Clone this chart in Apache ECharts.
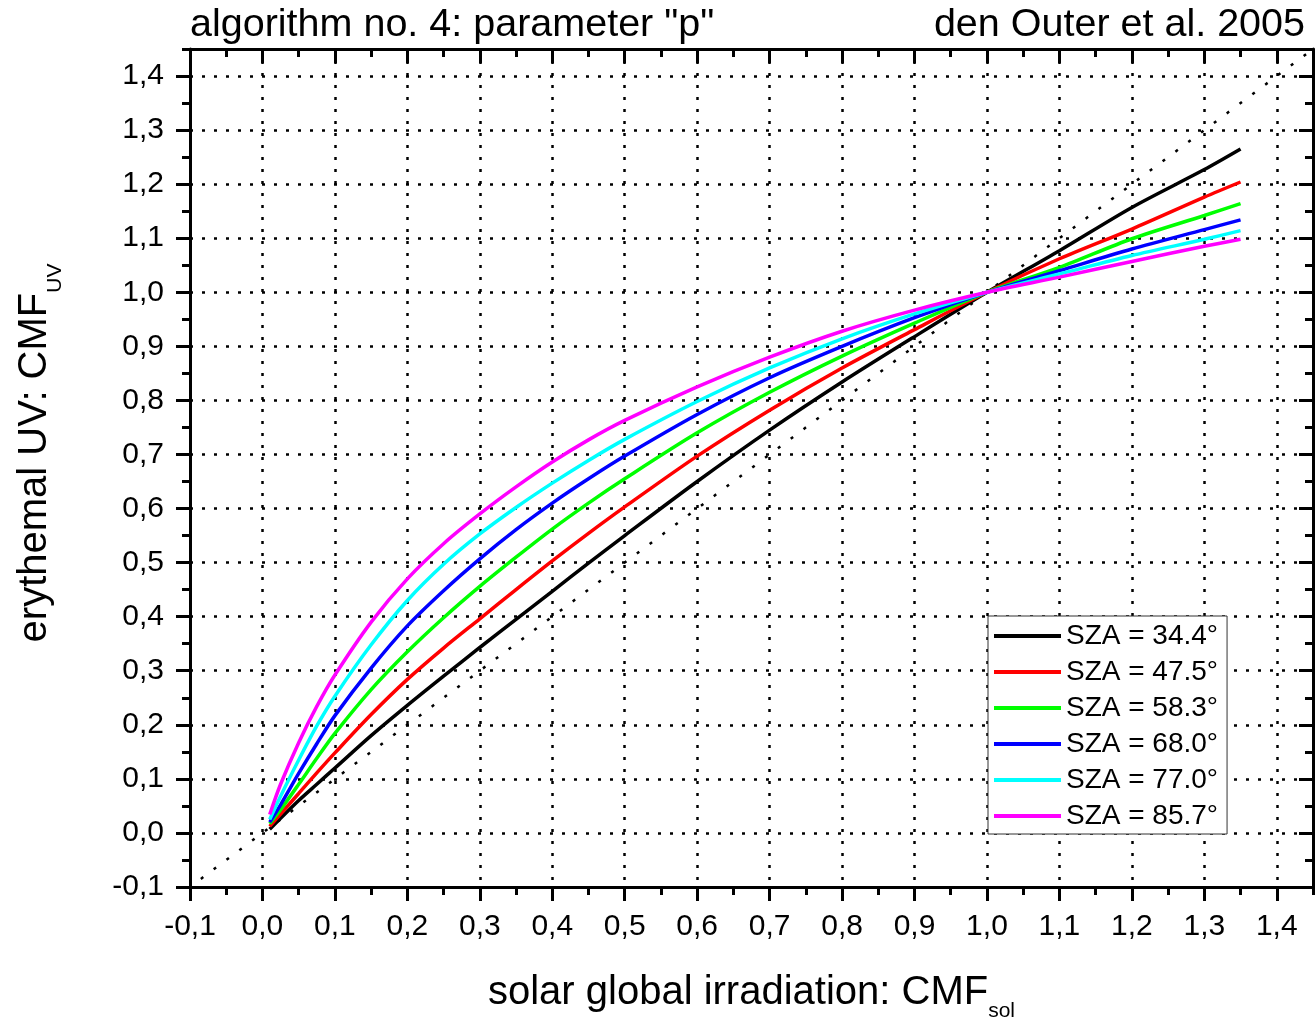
<!DOCTYPE html>
<html>
<head>
<meta charset="utf-8">
<script src="https://cdn.jsdelivr.net/npm/echarts@6/dist/echarts.min.js"></script>
<style>
html,body{margin:0;padding:0;background:#fff;}
#chart{width:1315px;height:1021px;}
</style>
</head>
<body>
<div id="chart"></div>
<script>
// ---- data ----
const cmfSol = [0.01, 0.025, 0.05, 0.075, 0.1, 0.15, 0.2, 0.25, 0.3, 0.35, 0.4, 0.45, 0.5, 0.6, 0.7, 0.8, 0.9, 1.0, 1.1, 1.2, 1.3, 1.35];
const sza344 = [0.007, 0.027, 0.06, 0.09, 0.12, 0.18, 0.236, 0.29, 0.343, 0.395, 0.447, 0.499, 0.55, 0.65, 0.745, 0.834, 0.918, 1.0, 1.077, 1.157, 1.227, 1.265];
const sza475 = [0.012, 0.035, 0.073, 0.111, 0.148, 0.219, 0.284, 0.342, 0.396, 0.45, 0.503, 0.554, 0.603, 0.697, 0.782, 0.86, 0.931, 1.0, 1.062, 1.117, 1.176, 1.204];
const sza583 = [0.017, 0.043, 0.09, 0.138, 0.184, 0.265, 0.335, 0.398, 0.456, 0.51, 0.562, 0.61, 0.655, 0.74, 0.815, 0.882, 0.943, 1.0, 1.046, 1.099, 1.142, 1.164];
const sza680 = [0.02, 0.052, 0.11, 0.165, 0.217, 0.305, 0.383, 0.448, 0.507, 0.561, 0.61, 0.655, 0.697, 0.774, 0.842, 0.9, 0.953, 1.0, 1.04, 1.08, 1.116, 1.134];
const sza770 = [0.025, 0.068, 0.135, 0.198, 0.253, 0.348, 0.43, 0.497, 0.553, 0.602, 0.647, 0.689, 0.728, 0.798, 0.86, 0.914, 0.96, 1.0, 1.034, 1.068, 1.098, 1.114];
const sza857 = [0.034, 0.09, 0.167, 0.234, 0.292, 0.39, 0.47, 0.535, 0.59, 0.64, 0.686, 0.727, 0.763, 0.825, 0.88, 0.928, 0.967, 1.0, 1.028, 1.057, 1.085, 1.098];
const seriesNames = ['SZA = 34.4°', 'SZA = 47.5°', 'SZA = 58.3°', 'SZA = 68.0°', 'SZA = 77.0°', 'SZA = 85.7°'];
const seriesValues = [sza344, sza475, sza583, sza680, sza770, sza857];
const seriesColors = ['#000000', '#ff0000', '#00ff00', '#0000ff', '#00ffff', '#ff00ff'];
const diagonalEnds = [-0.085, 1.45];   // 1:1 reference line
const tickLabels = ['-0,1', '0,0', '0,1', '0,2', '0,3', '0,4', '0,5', '0,6', '0,7', '0,8', '0,9', '1,0', '1,1', '1,2', '1,3', '1,4'];
const axisMin = -0.1, axisMax = 1.45, majorStep = 0.1, minorStep = 0.05;

const FONT = 'Liberation Sans, Arial, sans-serif';

function labelFor(v) {
  const k = (v - axisMin) / majorStep;
  const r = Math.round(k);
  if (Math.abs(k - r) > 1e-6) return '';
  return tickLabels[r] !== undefined ? tickLabels[r] : '';
}

function majorAxis(pos, opts) {
  const isLabelled = opts.labels;
  return {
    type: 'value', position: pos, min: axisMin, max: axisMax, interval: majorStep,
    axisLine: { show: true, onZero: false, lineStyle: { color: '#000', width: 3 } },
    axisTick: { show: true, inside: !!opts.inside, length: 14, lineStyle: { color: '#000', width: 3 } },
    minorTick: { show: false },
    axisLabel: isLabelled ? {
      show: true, color: '#000', fontFamily: FONT, fontSize: 30, margin: opts.margin,
      formatter: labelFor, showMaxLabel: false
    } : { show: false },
    splitLine: opts.split ? { show: true, lineStyle: { color: '#000', width: 2.5, type: [3, 9] } } : { show: false },
    name: opts.name || '', nameLocation: 'middle', nameGap: opts.nameGap || 0,
    nameTextStyle: opts.nameStyle || {}
  };
}
function minorAxis(pos, inside) {
  return {
    type: 'value', position: pos, min: axisMin, max: axisMax, interval: minorStep,
    axisLine: { show: false, onZero: false },
    axisTick: { show: true, inside: inside, length: 8, lineStyle: { color: '#000', width: 3 } },
    axisLabel: { show: false }, splitLine: { show: false }
  };
}

const series = seriesNames.map((nm, i) => ({
  name: nm, type: 'line', xAxisIndex: 0, yAxisIndex: 0,
  data: cmfSol.map((x, j) => [x, seriesValues[i][j]]),
  symbol: 'none', smooth: 0.3, z: 3 + i,
  lineStyle: { color: seriesColors[i], width: 3.5 },
  itemStyle: { color: seriesColors[i] }
}));
series.unshift({
  name: '1:1', type: 'line', xAxisIndex: 0, yAxisIndex: 0,
  data: diagonalEnds.map(v => [v, v]), symbol: 'none', silent: true, z: 2,
  lineStyle: { color: '#000', width: 2.5, type: [3, 13] }
});

const chart = echarts.init(document.getElementById('chart'), null, { renderer: 'canvas' });
chart.setOption({
  animation: false,
  backgroundColor: '#fff',
  title: [
    { text: 'algorithm no. 4: parameter "p"', left: 185, top: 0,
      textStyle: { fontFamily: FONT, fontSize: 39.5, fontWeight: 'normal', color: '#000' } },
    { text: 'den Outer et al. 2005', right: 5, top: 0,
      textStyle: { fontFamily: FONT, fontSize: 39.5, fontWeight: 'normal', color: '#000' } }
  ],
  grid: { left: 190, right: 2, top: 49, bottom: 134, containLabel: false, outerBoundsMode: 'none' },
  legend: {
    data: seriesNames, orient: 'vertical', left: 988, top: 616,
    padding: [5, 9, 3, 6], itemGap: 6, itemWidth: 67, itemHeight: 4, icon: 'rect',
    backgroundColor: '#fff', borderColor: '#333', borderWidth: 1,
    selectedMode: false,
    textStyle: { fontFamily: FONT, fontSize: 28, lineHeight: 30, color: '#000' }
  },
  xAxis: [
    majorAxis('bottom', { labels: true, margin: 25, split: true,
      name: '{m|solar global irradiation: CMF}{s|sol}', nameGap: 76,
      nameStyle: { rich: {
        m: { fontFamily: FONT, fontSize: 40, color: '#000' },
        s: { fontFamily: FONT, fontSize: 21, color: '#000', padding: [38, 0, 0, 0] }
      } } }),
    majorAxis('top', { labels: false, inside: true }),
    minorAxis('bottom', false),
    minorAxis('top', true)
  ],
  yAxis: [
    majorAxis('left', { labels: true, margin: 26, split: true,
      name: '{m|erythemal UV: CMF}{s|UV}', nameGap: 124,
      nameStyle: { padding: [0, 0, 0, 30], rich: {
        m: { fontFamily: FONT, fontSize: 40, color: '#000' },
        s: { fontFamily: FONT, fontSize: 21, color: '#000', padding: [42, 0, 0, 0] }
      } } }),
    majorAxis('right', { labels: false, inside: true }),
    minorAxis('left', false),
    minorAxis('right', true)
  ],
  series: series
});
</script>
</body>
</html>
